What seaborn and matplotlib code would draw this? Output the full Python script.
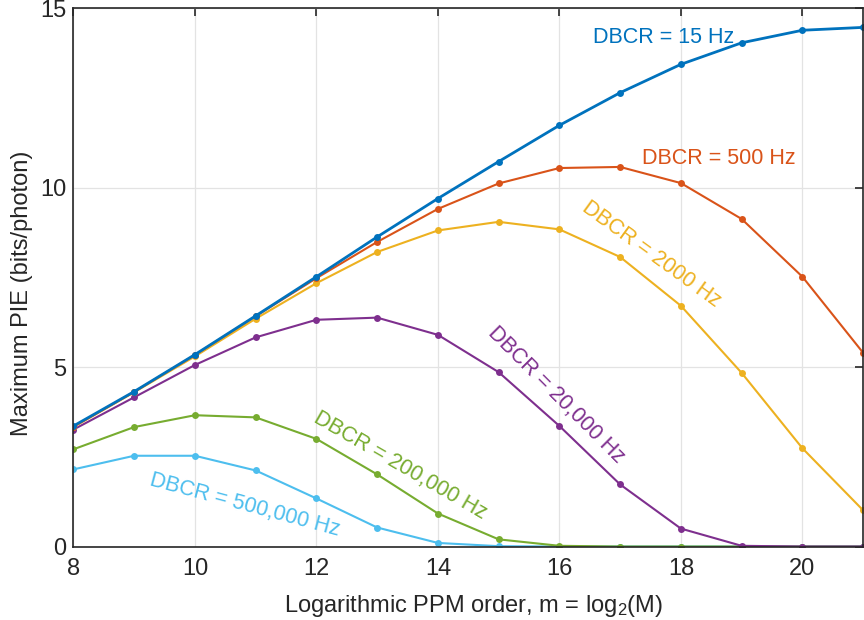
import numpy as np
import pandas as pd
import matplotlib
matplotlib.use("Agg")
import matplotlib.pyplot as plt
import seaborn as sns

# PPM order m = log2(M)
m = [8, 9, 10, 11, 12, 13, 14, 15, 16, 17, 18, 19, 20, 21]

# Maximum PIE (bits/photon) for each dark/background count rate
pie_15 = [3.36, 4.32, 5.35, 6.43, 7.52, 8.63, 9.70, 10.73, 11.74, 12.65, 13.44, 14.04, 14.39, 14.47]
pie_500 = [3.34, 4.31, 5.34, 6.42, 7.48, 8.49, 9.41, 10.12, 10.55, 10.58, 10.13, 9.13, 7.52, 5.40]
pie_2000 = [3.33, 4.30, 5.30, 6.35, 7.34, 8.21, 8.81, 9.05, 8.84, 8.07, 6.71, 4.84, 2.74, 1.01]
pie_20k = [3.26, 4.16, 5.06, 5.83, 6.32, 6.38, 5.90, 4.86, 3.36, 1.73, 0.50, 0.02, 0.0, 0.0]
pie_200k = [2.71, 3.33, 3.66, 3.60, 3.00, 2.01, 0.92, 0.20, 0.02, 0.0, 0.0, 0.0, 0.0, 0.0]
pie_500k = [2.15, 2.53, 2.53, 2.12, 1.34, 0.53, 0.10, 0.01, 0.0, 0.0, 0.0, 0.0, 0.0, 0.0]

labels = ["DBCR = 15 Hz", "DBCR = 500 Hz", "DBCR = 2000 Hz",
          "DBCR = 20,000 Hz", "DBCR = 200,000 Hz", "DBCR = 500,000 Hz"]
colors = ["#0072BD", "#D95319", "#EDB120", "#7E2F8E", "#77AC30", "#4DBEEE"]
series = [pie_15, pie_500, pie_2000, pie_20k, pie_200k, pie_500k]

# label placement (data coords) and rotation
label_x = [17.72, 18.63, 17.51, 15.95, 13.37, 10.82]
label_y = [14.20, 10.82, 8.15, 4.21, 2.26, 1.15]
label_rot = [0, 0, -36, -45, -30, -15]

df = pd.DataFrame({
    "m": np.tile(m, len(series)),
    "pie": np.concatenate(series),
    "dbcr": np.repeat(labels, len(m)),
})

sns.set_style("white")
plt.rcParams["font.family"] = ["Liberation Sans", "DejaVu Sans"]
plt.rcParams["mathtext.fontset"] = "custom"
plt.rcParams["mathtext.rm"] = "Liberation Sans"
plt.rcParams["mathtext.it"] = "Liberation Sans:italic"

fig = plt.figure(figsize=(8.64, 6.2), dpi=100)
ax = fig.add_axes([0.085, 0.1185, 0.914, 0.868])

# draw in reverse so the 15 Hz curve sits on top
for lab, col in zip(labels[::-1], colors[::-1]):
    lw = 2.0 if lab == labels[0] else 1.5
    sns.lineplot(data=df[df["dbcr"] == lab], x="m", y="pie", color=col,
                 marker="o", markersize=5, markeredgewidth=0, linewidth=lw,
                 ax=ax, legend=False)

for lab, col, tx, ty, rot in zip(labels, colors, label_x, label_y, label_rot):
    ax.text(tx, ty, lab, color=col, fontsize=15.5, rotation=rot,
            ha="center", va="center", rotation_mode="anchor")

ax.set_xlim(8, 21)
ax.set_ylim(0, 15)
ax.set_xticks([8, 10, 12, 14, 16, 18, 20])
ax.set_yticks([0, 5, 10, 15])
ax.grid(True, color="#e3e3e3", linewidth=0.9)
ax.set_axisbelow(True)
for s in ax.spines.values():
    s.set_color("#262626")
    s.set_linewidth(1.2)
ax.tick_params(direction="in", length=6, width=1.2, top=True, right=True,
               labelsize=17, colors="#262626", pad=5)
ax.tick_params(axis="x", pad=8)
ax.set_xlabel("Logarithmic PPM order, m = log$_2$(M)", fontsize=17,
              color="#262626")
ax.set_ylabel("Maximum PIE (bits/photon)", fontsize=17, color="#262626")
ax.xaxis.set_label_coords(0.507, -0.086)
ax.yaxis.set_label_coords(-0.051, 0.47)

fig.savefig("out.png", dpi=100)
